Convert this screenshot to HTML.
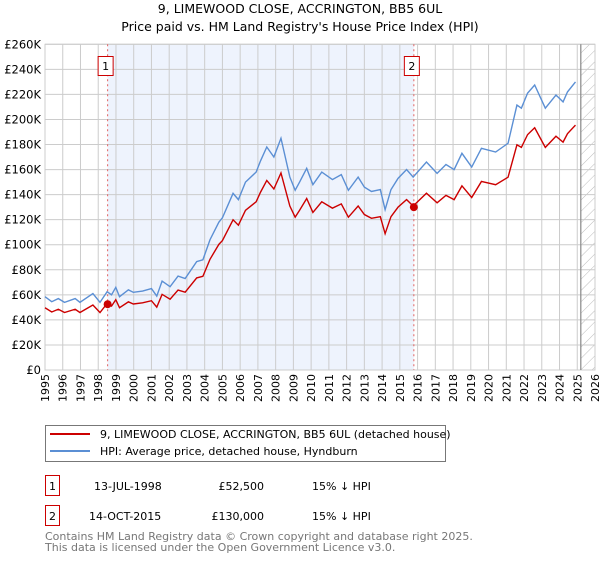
<!DOCTYPE html>
<html><head><meta charset="utf-8"><style>
body{margin:0;background:#fff;font-family:"Liberation Sans","DejaVu Sans",sans-serif;}
svg text{font-family:"DejaVu Sans","Liberation Sans",sans-serif;}
</style></head><body>
<svg id="chart" width="600" height="560" xmlns="http://www.w3.org/2000/svg">
<defs><pattern id="hatch" width="8" height="8" patternUnits="userSpaceOnUse" patternTransform="rotate(45)"><line x1="0" y1="0" x2="0" y2="8" stroke="#bbb" stroke-width="1"/></pattern></defs>
<text x="300" y="13" font-size="12.5" text-anchor="middle">9, LIMEWOOD CLOSE, ACCRINGTON, BB5 6UL</text>
<text x="300" y="31" font-size="12.5" text-anchor="middle">Price paid vs. HM Land Registry's House Price Index (HPI)</text>
<g id="plot"></g>
<rect x="45.5" y="425.5" width="400" height="36" fill="#fff" stroke="#777"/>
<line x1="50" y1="434" x2="90" y2="434" stroke="#cc0000" stroke-width="2"/>
<text x="100" y="438" font-size="11">9, LIMEWOOD CLOSE, ACCRINGTON, BB5 6UL (detached house)</text>
<line x1="50" y1="451" x2="90" y2="451" stroke="#5b8fd4" stroke-width="2"/>
<text x="100" y="455" font-size="11">HPI: Average price, detached house, Hyndburn</text>
<g font-size="11">
<rect x="45.5" y="475.5" width="14" height="20" fill="#fff" stroke="#cc0000"/>
<text x="52.5" y="490" text-anchor="middle">1</text>
<text x="94" y="490">13-JUL-1998</text>
<text x="264" y="490" text-anchor="end">£52,500</text>
<text x="312" y="490">15% ↓ HPI</text></g>
<g font-size="11">
<rect x="45.5" y="505.5" width="14" height="20" fill="#fff" stroke="#cc0000"/>
<text x="52.5" y="520" text-anchor="middle">2</text>
<text x="89" y="520">14-OCT-2015</text>
<text x="264" y="520" text-anchor="end">£130,000</text>
<text x="312" y="520">15% ↓ HPI</text></g>
<text x="45" y="540" font-size="11" fill="#777">Contains HM Land Registry data © Crown copyright and database right 2025.</text>
<text x="45" y="551" font-size="11" fill="#777">This data is licensed under the Open Government Licence v3.0.</text>
</svg>
<script>
const hpiYears=[1995.0,1995.38,1995.75,1996.1,1996.7,1996.97,1997.7,1998.1,1998.5,1998.75,1998.99,1999.2,1999.7,1999.98,2000.5,2001.0,2001.3,2001.6,2002.05,2002.5,2002.9,2003.55,2003.9,2004.3,2004.8,2005.0,2005.6,2005.9,2006.3,2006.9,2007.15,2007.5,2007.9,2008.3,2008.8,2009.1,2009.35,2009.75,2010.1,2010.6,2011.2,2011.7,2012.1,2012.65,2013.0,2013.4,2013.9,2014.17,2014.5,2014.9,2015.38,2015.75,2016.5,2017.1,2017.6,2018.06,2018.5,2019.05,2019.6,2020.4,2021.1,2021.6,2021.85,2022.2,2022.6,2023.2,2023.8,2024.2,2024.45,2024.9];
const hpiValues=[58.5,54.5,57,54,57,54,61,54,62.5,60,66,58.5,64,62,63,65,59,71,66.5,75,73,86.5,88,104,118,121.5,141,136,150,158,167,178,170,185,154,143.5,150,161,148,158,152,156,143.5,154,146,142.5,144,128,144,153,160,154,166,157,164,160,173,162,177,174,181,211.5,209,221,227.5,209,219.5,214,222,230];
const priceValues=[49.7,46.3,48.5,45.9,48.5,45.9,51.9,45.9,53.1,51,56.1,49.7,54.4,52.7,53.6,55.3,50.2,60.4,56.5,63.8,62.1,73.5,74.8,88.4,100.3,103.3,119.9,115.6,127.5,134.3,142,151.3,144.5,157.3,130.9,122,127.5,136.9,125.8,134.3,129.2,132.6,122,130.9,124.1,121.1,122.4,108.8,122.4,130,136,130.9,141.1,133.5,139.4,136,147,137.7,150.5,147.9,153.9,179.8,177.7,187.9,193.4,177.7,186.6,181.9,188.7,195.5];
const saleYears=[1998.53,2015.79];
const saleValues=[52.5,130];
const saleLabels=["1","2"];
const yTicks=[0,20,40,60,80,100,120,140,160,180,200,220,240,260];
const xTicks=[1995,1996,1997,1998,1999,2000,2001,2002,2003,2004,2005,2006,2007,2008,2009,2010,2011,2012,2013,2014,2015,2016,2017,2018,2019,2020,2021,2022,2023,2024,2025,2026];
const X0=45,X1=595,Y0=370,Y1=44.3;
const xs=y=>X0+(y-1995)/31*(X1-X0);
const ys=v=>Y0-v/260*(Y0-Y1);
const NS="http://www.w3.org/2000/svg";
const g=document.getElementById('plot');
function mk(t,a){const e=document.createElementNS(NS,t);for(const k in a)e.setAttribute(k,a[k]);g.appendChild(e);return e;}
let e;
e=mk('rect',{x:xs(saleYears[0]),y:Y1,width:xs(saleYears[1])-xs(saleYears[0]),height:Y0-Y1,fill:'#eef3fd'});


e=mk('rect',{x:xs(2025.2),y:Y1,width:X1-xs(2025.2),height:Y0-Y1,fill:'url(#hatch)'});


yTicks.forEach(v=>{
 e=mk('line',{x1:X0,x2:X1,y1:ys(v),y2:ys(v),stroke:'#ccc','stroke-width':1});
 
 
 e=mk('text',{x:X0-4,y:ys(v)+4,'font-size':11.5,'text-anchor':'end'});e.textContent='£'+v+(v?'K':'');
 
 
});
xTicks.forEach(y=>{
 e=mk('line',{x1:xs(y),x2:xs(y),y1:Y1,y2:Y0,stroke:'#ccc','stroke-width':1});
 
 
 const tx=xs(y)+4,ty=Y0+4;
 e=mk('text',{x:tx,y:ty,'font-size':11,'text-anchor':'end',transform:'rotate(-90 '+tx+' '+ty+')'});e.textContent=y;
 
 
});
e=mk('rect',{x:X0,y:Y1,width:X1-X0,height:Y0-Y1,fill:'none',stroke:'#ccc'});


e=mk('line',{x1:xs(2025.2),x2:xs(2025.2),y1:Y1,y2:Y0,stroke:'#888','stroke-width':1.2});


saleYears.forEach((y,i)=>{
 e=mk('line',{x1:xs(y),x2:xs(y),y1:Y1,y2:Y0,stroke:'#e06060','stroke-dasharray':'2,3','stroke-width':1});
 
 
});
e=mk('polyline',{points:hpiYears.map((y,i)=>xs(y)+','+ys(hpiValues[i])).join(' '),fill:'none',stroke:'#5b8fd4','stroke-width':1.4});


e=mk('polyline',{points:hpiYears.map((y,i)=>xs(y)+','+ys(priceValues[i])).join(' '),fill:'none',stroke:'#cc0000','stroke-width':1.4});


saleYears.forEach((y,i)=>{
 e=mk('circle',{cx:xs(y),cy:ys(saleValues[i]),r:4,fill:'#cc0000'});
 
 
 e=mk('rect',{x:xs(y)-9.5,y:56.5,width:15,height:19,fill:'#fff',stroke:'#cc0000'});
 
 
 e=mk('text',{x:xs(y)-2,y:70,'font-size':11,'text-anchor':'middle'});e.textContent=saleLabels[i];
 
 
});
</script>
</body></html>
